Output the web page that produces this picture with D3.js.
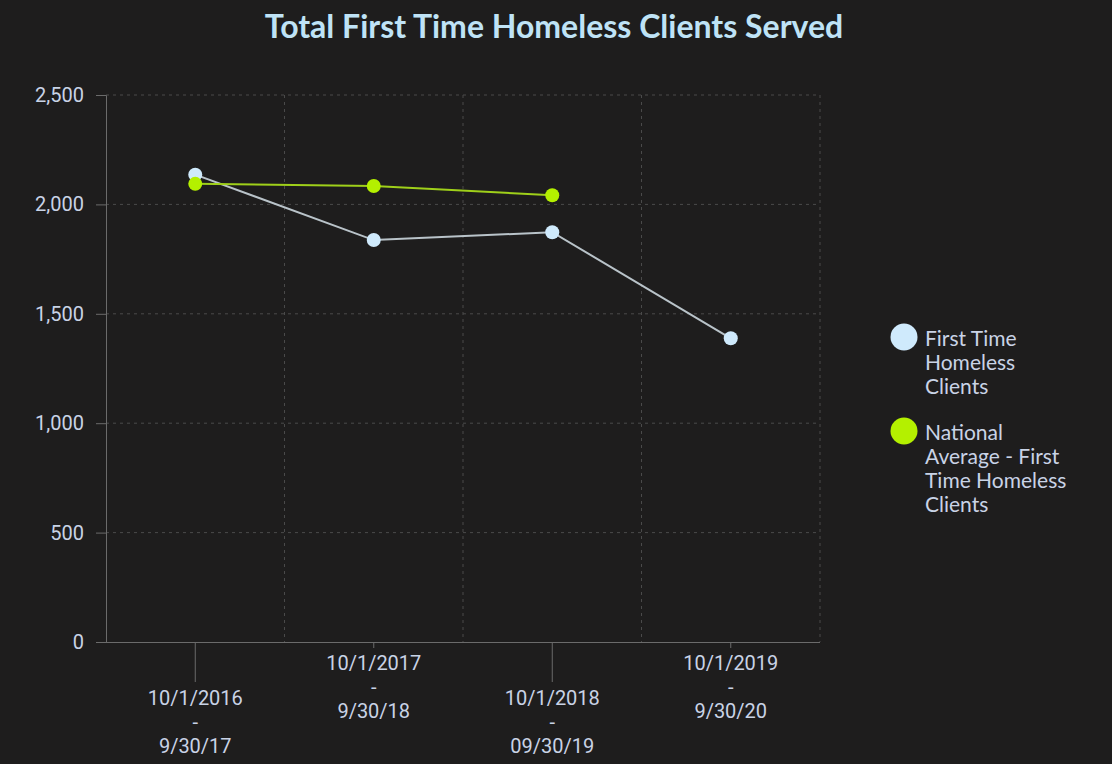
<!DOCTYPE html>
<html>
<head>
<meta charset="utf-8">
<script src="https://cdn.jsdelivr.net/npm/d3@7"></script>
<style>
  html, body { margin: 0; padding: 0; background: #1e1d1d; }
  svg { display: block; }
</style>
</head>
<body>
<svg id="chart" width="1112" height="764"></svg>
<script>
// Fiscal-year periods (each label split into lines)
const periods = [
  ["10/1/2016", "-", "9/30/17"],
  ["10/1/2017", "-", "9/30/18"],
  ["10/1/2018", "-", "09/30/19"],
  ["10/1/2019", "-", "9/30/20"]
];
const periodKeys = ["FY2017", "FY2018", "FY2019", "FY2020"];
const firstTimeClients = [2136, 1837, 1873, 1388];
const nationalAverage = [2094, 2084, 2042];
const yTicks = [0, 500, 1000, 1500, 2000, 2500];
const legendLabels = [
  ["First Time", "Homeless", "Clients"],
  ["National", "Average - First", "Time Homeless", "Clients"]
];

const colors = {
  bg: "#1e1d1d",
  title: "#bfe3f6",
  text: "#c9d3e6",
  axis: "#6b6b6b",
  grid: "#4a4a4a",
  clientDot: "#cfeafc",
  clientLine: "#b9c3c9",
  natDot: "#b4f000",
  natLine: "#9fd01a"
};

const svg = d3.select("#chart");
svg.append("rect").attr("width", 1112).attr("height", 764).attr("fill", colors.bg);

const plot = { left: 106, right: 820, top: 95, bottom: 642 };

const x = d3.scaleBand().domain(periodKeys).range([plot.left, plot.right]).paddingInner(0).paddingOuter(0);
const y = d3.scaleLinear().domain([0, 2500]).range([plot.bottom, plot.top]);

// Title
svg.append("text")
  .attr("x", 554).attr("y", 38)
  .attr("text-anchor", "middle")
  .attr("fill", colors.title)
  .style("font-family", "Lato, 'Open Sans', sans-serif")
  .style("font-weight", "700")
  .style("font-size", "32px")
  .text("Total First Time Homeless Clients Served");

// Horizontal dashed gridlines
svg.append("g").selectAll("line")
  .data(yTicks.filter(d => d > 0))
  .join("line")
  .attr("x1", plot.left).attr("x2", plot.right)
  .attr("y1", d => y(d)).attr("y2", d => y(d))
  .attr("stroke", colors.grid).attr("stroke-width", 1)
  .attr("stroke-dasharray", "3,4");

// Vertical dashed gridlines at period boundaries
svg.append("g").selectAll("line")
  .data(periodKeys)
  .join("line")
  .attr("x1", d => x(d) + x.bandwidth())
  .attr("x2", d => x(d) + x.bandwidth())
  .attr("y1", plot.top).attr("y2", plot.bottom)
  .attr("stroke", colors.grid).attr("stroke-width", 1)
  .attr("stroke-dasharray", "3,4");

// Y axis
const yAxis = svg.append("g")
  .attr("transform", `translate(${plot.left},0)`)
  .call(d3.axisLeft(y).tickValues(yTicks).tickFormat(d3.format(",")).tickSize(10).tickPadding(12));
yAxis.select(".domain").attr("stroke", colors.axis);
yAxis.selectAll(".tick line").attr("stroke", colors.axis);
yAxis.selectAll(".tick text")
  .attr("fill", colors.text)
  .style("font-family", "Roboto, sans-serif")
  .style("font-size", "20px");

// X axis with staggered labels
const xAxis = svg.append("g")
  .attr("transform", `translate(0,${plot.bottom})`)
  .call(d3.axisBottom(x).tickSize(0).tickFormat(""));
xAxis.select(".domain").attr("stroke", colors.axis).attr("d", `M${plot.left},0.5H${plot.right}`);
xAxis.selectAll(".tick").each(function(d, i) {
  const g = d3.select(this);
  const low = i % 2 === 0;
  g.append("line")
    .attr("y1", 0).attr("y2", low ? 40 : 6)
    .attr("stroke", colors.axis);
  g.selectAll("text.period")
    .data(periods[i])
    .join("text")
    .attr("class", "period")
    .attr("text-anchor", "middle")
    .attr("fill", colors.text)
    .style("font-family", "Roboto, sans-serif")
    .style("font-size", "20px")
    .attr("x", 0)
    .attr("y", (line, k) => (low ? 63 : 28) + k * 24)
    .text(line => line);
});

const cx = (d, i) => x(periodKeys[i]) + x.bandwidth() / 2;

// First-time clients series
svg.append("path")
  .datum(firstTimeClients)
  .attr("fill", "none")
  .attr("stroke", colors.clientLine)
  .attr("stroke-width", 2)
  .attr("d", d3.line().x(cx).y(d => y(d)));

// National average series
svg.append("path")
  .datum(nationalAverage)
  .attr("fill", "none")
  .attr("stroke", colors.natLine)
  .attr("stroke-width", 2)
  .attr("d", d3.line().x(cx).y(d => y(d)));

svg.append("g").selectAll("circle")
  .data(firstTimeClients)
  .join("circle")
  .attr("cx", cx).attr("cy", d => y(d)).attr("r", 7)
  .attr("fill", colors.clientDot);

svg.append("g").selectAll("circle")
  .data(nationalAverage)
  .join("circle")
  .attr("cx", cx).attr("cy", d => y(d)).attr("r", 7)
  .attr("fill", colors.natDot);

// Legend
const legendItems = [
  { color: colors.clientDot, lines: legendLabels[0], y: 337 },
  { color: colors.natDot, lines: legendLabels[1], y: 431 }
];
const legend = svg.append("g");
legendItems.forEach(item => {
  legend.append("circle")
    .attr("cx", 904).attr("cy", item.y).attr("r", 13.5)
    .attr("fill", item.color);
  const t = legend.append("text")
    .attr("fill", colors.text)
    .style("font-family", "Lato, 'Open Sans', sans-serif")
    .style("font-size", "21px");
  item.lines.forEach((line, k) => {
    t.append("tspan")
      .attr("x", 925)
      .attr("y", item.y + 9 + k * 24)
      .text(line);
  });
});
</script>
</body>
</html>
